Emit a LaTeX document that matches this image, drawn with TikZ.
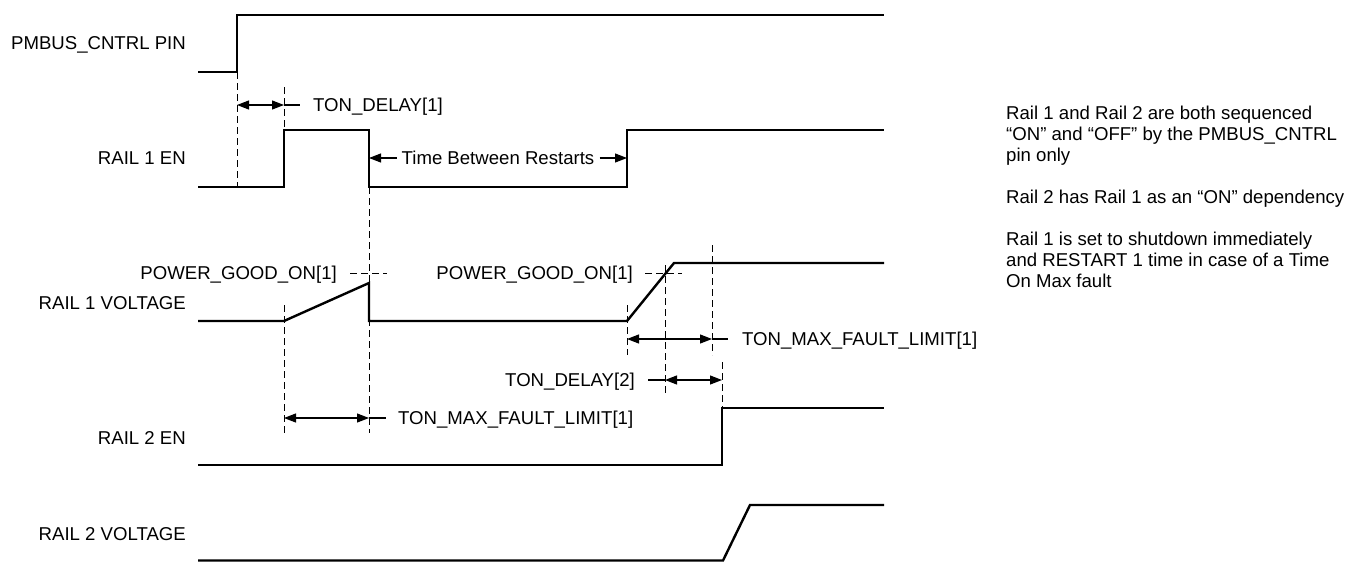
\documentclass[tikz,border=0pt]{standalone}
\usepackage{fontspec}
\setmainfont{Liberation Sans}
\usetikzlibrary{arrows.meta,positioning,calc}

\begin{document}
\begin{tikzpicture}[x=1pt, y=-1pt,
  every node/.style={font=\fontsize{18.6}{21}\selectfont, inner sep=0pt},
  signame/.style={anchor=base east},
  signal/.style={line width=2.4pt},
  guide/.style={line width=0.9pt, dash pattern=on 7pt off 4pt},
  dimline/.style={line width=1.1pt, {Triangle[length=12pt,width=9pt]}-{Triangle[length=12pt,width=9pt]}},
  halfdim/.style={line width=1.1pt, -{Triangle[length=12pt,width=9pt]}},
  tickline/.style={line width=1.1pt}]
\useasboundingbox (0,0) rectangle (1348,562);

% signal names
\node[signame] (pmbus) at (186,49.6) {PMBUS\_CNTRL PIN};
\node[signame] (r1en) at (186,164.6) {RAIL 1 EN};
\node[signame] (r1v) at (186,309.6) {RAIL 1 VOLTAGE};
\node[signame] (r2en) at (186,444.6) {RAIL 2 EN};
\node[signame] (r2v) at (186,540.6) {RAIL 2 VOLTAGE};

% waveforms
\draw[signal] (198,72) -- (237,72) -- (237,15) -- (884,15);
\draw[signal] (198,187) -- (284,187) -- (284,130) -- (369,130) -- (369,187) -- (627,187) -- (627,130) -- (884,130);
\draw[signal] (198,321) -- (284,321) -- (369,283) -- (369,321) -- (627,321) -- (674,263) -- (884,263);
\draw[signal] (198,465) -- (722,465) -- (722,408) -- (884,408);
\draw[signal] (198,560.5) -- (723,560.5) -- (750,505) -- (884,505);

% dashed guides
\draw[guide] (237,72) -- (237,187);
\draw[guide] (284,87) -- (284,130);
\draw[guide] (284,305) -- (284,433);
\draw[guide] (369,187) -- (369,433);
\draw[guide] (627,305) -- (627,355);
\draw[guide] (665,265) -- (665,393);
\draw[guide] (712,245) -- (712,355);
\draw[guide] (722,362) -- (722,408);

% TON_DELAY[1]
\coordinate (td1a) at (237,105);
\coordinate (td1b) at (284,105);
\node[anchor=base west, inner xsep=13pt] (tdelay1) at (300,111.6) {TON\_DELAY[1]};
\draw[dimline] (td1a) -- (td1b);
\draw[tickline] (td1b) -- (td1b -| tdelay1.west);

% time between restarts
\coordinate (tr1) at (369,158);
\coordinate (tr2) at (627,158);
\node[inner xsep=5pt] (trest) at (498,158) {Time Between Restarts};
\draw[halfdim] (trest.west) -- (tr1);
\draw[halfdim] (trest.east) -- (tr2);

% power good levels
\coordinate (pg1e) at (387,273);
\coordinate (pg2e) at (682,273);
\node[anchor=base east, inner xsep=13pt] (pgood1) at (350,279.6) {POWER\_GOOD\_ON[1]};
\node[anchor=base east, inner xsep=12pt] (pgood2) at (645,279.6) {POWER\_GOOD\_ON[1]};
\draw[guide] (pg1e -| pgood1.east) -- (pg1e);
\draw[guide] (pg2e -| pgood2.east) -- (pg2e);

% TON_MAX_FAULT_LIMIT[1], restart
\coordinate (tm1a) at (627,339);
\coordinate (tm1b) at (712,339);
\node[anchor=base west, inner xsep=14pt] (tmax1) at (728,345.6) {TON\_MAX\_FAULT\_LIMIT[1]};
\draw[dimline] (tm1a) -- (tm1b);
\draw[tickline] (tm1b) -- (tm1b -| tmax1.west);

% TON_DELAY[2]
\coordinate (td2a) at (665,380);
\coordinate (td2b) at (722,380);
\node[anchor=base east, inner xsep=13pt] (tdelay2) at (648,386.6) {TON\_DELAY[2]};
\draw[dimline] (td2a) -- (td2b);
\draw[tickline] (td2a -| tdelay2.east) -- (td2a);

% TON_MAX_FAULT_LIMIT[1], first try
\coordinate (tm2a) at (284,418);
\coordinate (tm2b) at (369,418);
\node[anchor=base west, inner xsep=12pt] (tmax2) at (386,424.6) {TON\_MAX\_FAULT\_LIMIT[1]};
\draw[dimline] (tm2a) -- (tm2b);
\draw[tickline] (tm2b) -- (tm2b -| tmax2.west);

% notes
\node[anchor=north west, align=left] (notes) at (1006,106.3) {Rail 1 and Rail 2 are both sequenced\\
“ON” and “OFF” by the PMBUS\_CNTRL\\
pin only\\[21pt]
Rail 2 has Rail 1 as an “ON” dependency\\[21pt]
Rail 1 is set to shutdown immediately\\
and RESTART 1 time in case of a Time\\
On Max fault};
\end{tikzpicture}
\end{document}
